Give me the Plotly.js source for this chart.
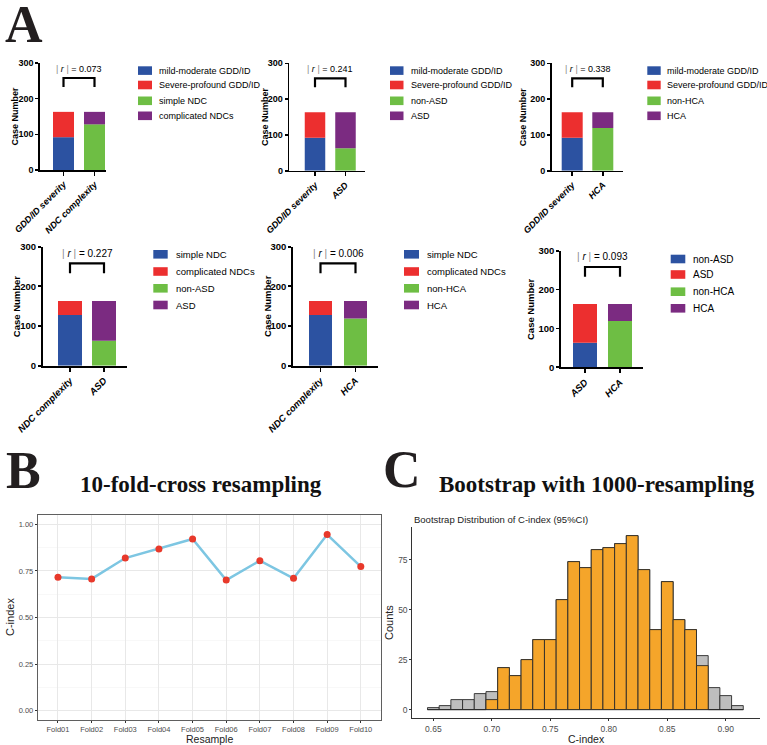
<!DOCTYPE html>
<html><head><meta charset="utf-8">
<script src="https://cdn.plot.ly/plotly-3.0.1.min.js"></script>
<style>html,body{margin:0;padding:0;background:#fff}#chart{width:767px;height:745px}</style>
</head><body><div id="chart"></div>
<script>
// ---------------- Data ----------------
const gddidLabels = ["mild-moderate GDD/ID", "Severe-profound GDD/ID"];
const gddidCounts = [92, 71];
const ndcLabels = ["simple NDC", "complicated NDCs"];
const ndcCounts = [128, 35];
const asdLabels = ["non-ASD", "ASD"];
const asdCounts = [63, 100];
const hcaLabels = ["non-HCA", "HCA"];
const hcaCounts = [119, 44];
const variableNames = ["GDD/ID severity", "NDC complexity", "ASD", "HCA"];
const pairVariables = [[0, 1], [0, 2], [0, 3], [1, 2], [1, 3], [2, 3]];
const pairAbsR = [0.073, 0.241, 0.338, 0.227, 0.006, 0.093];

const foldNames = ["Fold01", "Fold02", "Fold03", "Fold04", "Fold05", "Fold06", "Fold07", "Fold08", "Fold09", "Fold10"];
const foldCIndex = [0.716, 0.707, 0.819, 0.868, 0.921, 0.701, 0.805, 0.710, 0.945, 0.773];

const bootBinCenters = [0.65, 0.66, 0.67, 0.68, 0.69, 0.70, 0.71, 0.72, 0.73, 0.74, 0.75, 0.76, 0.77, 0.78, 0.79, 0.80, 0.81, 0.82, 0.83, 0.84, 0.85, 0.86, 0.87, 0.88, 0.89, 0.90, 0.91];
const bootCountsAll = [1, 2, 5, 5, 8, 9, 21, 17, 25, 35, 35, 55, 74, 71, 80, 81, 83, 87, 70, 40, 64, 45, 40, 27, 11, 7, 2];
const bootCountsCI  = [0, 0, 0, 0, 0, 5, 21, 17, 25, 35, 35, 55, 74, 71, 80, 81, 83, 87, 70, 40, 64, 45, 40, 22, 0, 0, 0];
const bootBinWidth = 0.01;

// ---------------- Layout helpers ----------------
const W = 767, H = 745;
const px = x => x / W;
const py = y => 1 - y / H;
const SANS = "Liberation Sans, Arial, sans-serif";
const SERIF = "Liberation Serif, Times New Roman, serif";
const variableLabels = [gddidLabels, ndcLabels, asdLabels, hcaLabels];
const variableCounts = [gddidCounts, ndcCounts, asdCounts, hcaCounts];
const segColors = [["#2C52A1", "#EC2F2F"], ["#6EBE44", "#7B2B81"]];

const aSpecs = [
  {axL: 40, axR: 106, y0: 170, y300: 63, c1: 63.5, c2: 94.5, bw: 21, tX: 15, fs: 9, rfs: 9, lw: 1.6,
   leg: {x0: 138, x1: 152, tx: 157, rows: [70.6, 85, 100.8, 115.8], fs: 9}},
  {axL: 289.3, axR: 365, y0: 170.7, y300: 63.3, c1: 315, c2: 345.5, bw: 20.5, tX: 265, fs: 9, rfs: 9, lw: 1.6,
   leg: {x0: 390, x1: 403.5, tx: 408.5, rows: [70.6, 85, 100.8, 115.8], fs: 9}},
  {axL: 551.7, axR: 623, y0: 170.7, y300: 63.3, c1: 572.2, c2: 602.8, bw: 21, tX: 523.3, fs: 9, rfs: 9, lw: 1.6,
   leg: {x0: 647.3, x1: 660.7, tx: 665, rows: [70.6, 85, 100.8, 115.8], fs: 9}},
  {axL: 42.7, axR: 127, y0: 365.7, y300: 246.7, c1: 70, c2: 104, bw: 24, tX: 16, fs: 9.5, rfs: 10, lw: 1.8,
   leg: {x0: 153.3, x1: 167.7, tx: 174, rows: [254.3, 271.5, 288.3, 305], fs: 9.5}},
  {axL: 293, axR: 378, y0: 365.7, y300: 246.7, c1: 320.5, c2: 355.5, bw: 23, tX: 266.7, fs: 9.5, rfs: 10, lw: 1.8,
   leg: {x0: 404, x1: 419, tx: 425, rows: [254.3, 271.5, 288.3, 305], fs: 9.5}},
  {axL: 561, axR: 643, y0: 367.3, y300: 250.7, c1: 585, c2: 620, bw: 24, tX: 530, fs: 9.5, rfs: 10, lw: 1.8,
   leg: {x0: 670.7, x1: 685.3, tx: 691, rows: [259, 274.5, 291.7, 308.3], fs: 10}}
];

const traces = [];
const layout = {
  width: W, height: H, margin: {l: 0, r: 0, t: 0, b: 0},
  paper_bgcolor: "#fff", plot_bgcolor: "#fff", showlegend: false,
  barmode: "overlay", font: {family: SANS, color: "#000"},
  annotations: [], shapes: []
};
function note(o) {
  layout.annotations.push(Object.assign({xref: "paper", yref: "paper", xanchor: "center", yanchor: "middle",
    showarrow: false}, o));
}

pairVariables.forEach((pair, i) => {
  const s = aSpecs[i];
  const xr = i === 0 ? "x" : "x" + (i + 1);
  const yr = i === 0 ? "y" : "y" + (i + 1);
  const xk = i === 0 ? "xaxis" : "xaxis" + (i + 1);
  const yk = i === 0 ? "yaxis" : "yaxis" + (i + 1);
  const sp = s.c2 - s.c1;
  const cats = pair.map(v => variableNames[v]);
  const legendItems = [];
  pair.forEach((v, b) => {
    const counts = variableCounts[v];
    const labels = variableLabels[v];
    traces.push({type: "bar", x: [cats[b]], y: [counts[0]], base: [0], width: s.bw / sp,
      marker: {color: segColors[b][0], line: {width: 0}}, xaxis: xr, yaxis: yr, name: labels[0], hoverinfo: "skip"});
    traces.push({type: "bar", x: [cats[b]], y: [counts[1]], base: [counts[0]], width: s.bw / sp,
      marker: {color: segColors[b][1], line: {width: 0}}, xaxis: xr, yaxis: yr, name: labels[1], hoverinfo: "skip"});
    legendItems.push([labels[0], segColors[b][0]], [labels[1], segColors[b][1]]);
  });
  // significance bracket
  traces.push({type: "scatter", mode: "lines", x: [cats[0], cats[0], cats[1], cats[1]], y: [233, 258, 258, 233],
    line: {color: "#000", width: 2.2}, xaxis: xr, yaxis: yr, hoverinfo: "skip"});
  note({xref: xr, yref: yr, x: 0.5, y: 284,
    text: '<span style="color:#8a8a8a">|</span> <i>r</i> <span style="color:#8a8a8a">|</span> = ' + pairAbsR[i].toFixed(3),
    font: {size: s.rfs, family: SANS, color: "#000"}});

  layout[xk] = {domain: [px(s.axL), px(s.axR)], type: "category", range: [(s.axL - s.c1) / sp, (s.axR - s.c1) / sp],
    anchor: yr, showline: true, linecolor: "#000", linewidth: s.lw, ticks: "outside", ticklen: 4, tickwidth: s.lw,
    tickcolor: "#000", showgrid: false, zeroline: false, tickangle: -45, fixedrange: true,
    tickfont: {family: SANS, size: s.fs, weight: "bold", style: "italic", color: "#000"}};
  layout[yk] = {domain: [py(s.y0), py(s.y300)], range: [0, 300], anchor: xr, tickvals: [0, 100, 200, 300],
    showline: true, linecolor: "#000", linewidth: s.lw, ticks: "outside", ticklen: 3, tickwidth: s.lw,
    tickcolor: "#000", showgrid: false, zeroline: false, fixedrange: true,
    tickfont: {family: SANS, size: s.fs, weight: "bold", color: "#000"}};
  note({x: px(s.tX), y: py((s.y0 + s.y300) / 2), textangle: -90,
    text: "<b>Case Number</b>", font: {family: SANS, size: s.fs, color: "#000"}});
  // legend
  legendItems.forEach((it, k) => {
    const yc = s.leg.rows[k];
    layout.shapes.push({type: "rect", xref: "paper", yref: "paper", x0: px(s.leg.x0), x1: px(s.leg.x1),
      y0: py(yc + 4.3), y1: py(yc - 4.3), fillcolor: it[1], line: {width: 0}});
    note({x: px(s.leg.tx), y: py(yc), xanchor: "left", text: it[0], font: {family: SANS, size: s.leg.fs, color: "#000"}});
  });
});

// ---------------- Panel B ----------------
traces.push({type: "scatter", mode: "lines+markers", x: foldNames, y: foldCIndex, xaxis: "x7", yaxis: "y7",
  line: {color: "#7DC6E2", width: 2.5}, marker: {color: "#E8392B", size: 7}, hoverinfo: "skip"});
layout.xaxis7 = {domain: [px(37.8), px(381)], type: "category", range: [-0.6, 9.6], anchor: "y7",
  showline: true, mirror: true, linecolor: "#5f5f5f", linewidth: 1, ticks: "outside", ticklen: 2, tickcolor: "#333",
  showgrid: true, gridcolor: "#E8E8E8", gridwidth: 1, zeroline: false, fixedrange: true,
  tickfont: {family: SANS, size: 7.5, color: "#4D4D4D"}};
layout.yaxis7 = {domain: [py(720), py(515)], range: [-0.05, 1.05], anchor: "x7", tickvals: [0, 0.25, 0.5, 0.75, 1],
  tickformat: ".2f", showline: true, mirror: true, linecolor: "#5f5f5f", linewidth: 1, ticks: "outside", ticklen: 2,
  tickcolor: "#333", showgrid: true, gridcolor: "#E8E8E8", gridwidth: 1, zeroline: false, fixedrange: true,
  minor: {dtick: 0.125, tick0: 0.125, showgrid: true, gridcolor: "#F3F3F3", gridwidth: 0.6, ticks: ""},
  tickfont: {family: SANS, size: 7.5, color: "#4D4D4D"}};
note({x: px(9.5), y: py(617.5), textangle: -90, text: "C-index", font: {family: SANS, size: 11, color: "#222"}});
note({x: px(209.4), y: py(738.5), text: "Resample", font: {family: SANS, size: 10.5, color: "#222"}});

// ---------------- Panel C ----------------
traces.push({type: "bar", x: bootBinCenters, y: bootCountsAll, width: bootBinWidth, xaxis: "x8", yaxis: "y8",
  marker: {color: "#BEBEBE", line: {color: "#2b2b2b", width: 0.9}}, hoverinfo: "skip"});
traces.push({type: "bar", x: bootBinCenters, y: bootCountsCI, width: bootBinWidth, xaxis: "x8", yaxis: "y8",
  marker: {color: "#F5A52A", line: {color: "#2b2b2b", width: 0.9}}, hoverinfo: "skip"});
layout.xaxis8 = {domain: [px(412.3), px(760)], range: [0.632, 0.9293], anchor: "y8",
  tickvals: [0.65, 0.70, 0.75, 0.80, 0.85, 0.90], tickformat: ".2f", showline: true, linecolor: "#333", linewidth: 1,
  ticks: "outside", ticklen: 2, tickcolor: "#333", showgrid: false, zeroline: false, fixedrange: true,
  tickfont: {family: SANS, size: 8.5, color: "#4D4D4D"}};
layout.yaxis8 = {domain: [py(718.3), py(526.9)], range: [-4.35, 91.35], anchor: "x8", tickvals: [0, 25, 50, 75],
  showline: true, linecolor: "#333", linewidth: 1, ticks: "outside", ticklen: 2, tickcolor: "#333",
  showgrid: false, zeroline: false, fixedrange: true, tickfont: {family: SANS, size: 8.5, color: "#4D4D4D"}};
note({x: px(412), y: py(519), xanchor: "left", text: "Bootstrap Distribution of C-index (95%CI)",
  font: {family: SANS, size: 9.5, color: "#222"}});
note({x: px(389), y: py(623), textangle: -90, text: "Counts", font: {family: SANS, size: 11, color: "#222"}});
note({x: px(586), y: py(738.5), text: "C-index", font: {family: SANS, size: 10.5, color: "#222"}});

// ---------------- Panel letters & titles ----------------
const letterFont = {family: SERIF, size: 52, color: "#231F20"};
note({x: px(3), y: py(25), xanchor: "left", text: "<b>A</b>", font: letterFont});
note({x: px(4), y: py(470), xanchor: "left", text: "<b>B</b>", font: letterFont});
note({x: px(381), y: py(469), xanchor: "left", text: "<b>C</b>", font: letterFont});
const titleFont = {family: SERIF, size: 23, color: "#111"};
note({x: px(201), y: py(485), text: "<b>10-fold-cross resampling</b>", font: titleFont});
note({x: px(597), y: py(485), text: "<b>Bootstrap with 1000-resampling</b>", font: titleFont});

Plotly.newPlot("chart", traces, layout, {displayModeBar: false, staticPlot: true});
</script>
</body></html>
